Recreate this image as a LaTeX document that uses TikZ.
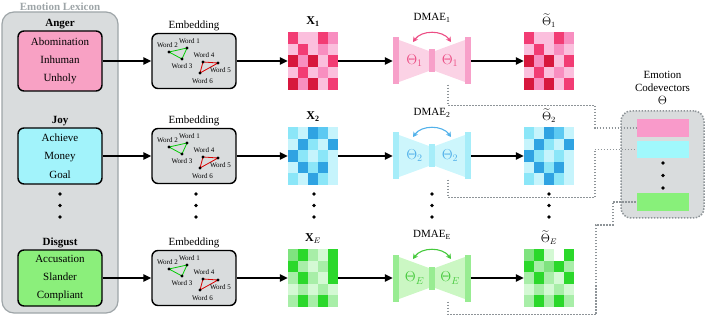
\documentclass[tikz,border=0pt]{standalone}
\usepackage{amsmath}
\usepackage{fontspec}
\setmainfont{Liberation Serif}
\usepackage{xcolor}
\usepackage{tikz}
\usetikzlibrary{arrows.meta,positioning,calc}
% heatmap levels
\definecolor{pkA}{HTML}{D7173D}
\definecolor{pkB}{HTML}{F23C74}
\definecolor{pkC}{HTML}{F88EC0}
\definecolor{pkD}{HTML}{FBBFDD}
\definecolor{blA}{HTML}{2FA3E2}
\definecolor{blB}{HTML}{5CC9F2}
\definecolor{blC}{HTML}{8BE6F8}
\definecolor{blD}{HTML}{C6F4FC}
\definecolor{grA}{HTML}{2BD82B}
\definecolor{grB}{HTML}{7FE37F}
\definecolor{grC}{HTML}{A8EEA8}
\definecolor{grD}{HTML}{D4F9D4}
% dmae colours
\definecolor{pkbar}{HTML}{F7A0C9}
\definecolor{pkbody}{HTML}{FBD2E5}
\definecolor{pkink}{HTML}{EC4D84}
\definecolor{blbar}{HTML}{A6EDF9}
\definecolor{blbody}{HTML}{CDF6FC}
\definecolor{blink}{HTML}{52B1EA}
\definecolor{grbar}{HTML}{98EC92}
\definecolor{grbody}{HTML}{CBF7C3}
\definecolor{grink}{HTML}{45C93C}
% boxes
\definecolor{lexfill}{HTML}{D9DCDD}
\definecolor{lexline}{HTML}{9EA5A8}
\definecolor{angerfill}{HTML}{F8A1C4}
\definecolor{joyfill}{HTML}{A2F3FB}
\definecolor{disgustfill}{HTML}{8BEF7B}
\definecolor{cvpink}{HTML}{F99ACA}
\definecolor{cvcyan}{HTML}{A0F8FC}
\definecolor{cvgreen}{HTML}{88F07A}
\definecolor{linkgray}{HTML}{8E9498}

\tikzset{
  lexframe/.style={draw=lexline,fill=lexfill,line width=1.2pt,rounded corners=12pt,minimum width=116pt,minimum height=301pt,inner sep=0pt},
  lextitle/.style={text=lexline,font=\bfseries\fontsize{11}{13}\selectfont,inner sep=1pt},
  lexbox/.style={draw=black,line width=1.4pt,rounded corners=6pt,minimum width=84pt,inner sep=0pt,align=center,font=\fontsize{11}{18.3}\selectfont},
  lexhead/.style={font=\bfseries\fontsize{11}{13}\selectfont,inner sep=1pt},
  embbox/.style={draw=black,fill=lexfill,line width=1.4pt,rounded corners=6pt,minimum width=84pt,minimum height=55pt,inner sep=0pt},
  embhead/.style={font=\fontsize{11}{13}\selectfont,inner sep=1pt},
  wordlbl/.style={font=\fontsize{7}{8}\selectfont,inner sep=0pt},
  flow/.style={line width=1.4pt,-{Triangle[length=8pt,width=7.5pt]}},
  dmarrow/.style={line width=1.1pt,{Stealth[length=5pt,width=5.5pt]}-{Stealth[length=5pt,width=5.5pt]}},
  link/.style={draw=linkgray,line width=1.5pt,dash pattern=on 1.5pt off 1.5pt},
  cvbar/.style={minimum width=52pt,minimum height=17.5pt,inner sep=0pt}
}

% heatmap: name, centre, rows of cell colours
\newcommand{\heatmap}[3]{%
  \node[inner sep=0pt,minimum width=50pt,minimum height=57.5pt] (#1) at (#2) {};
  \foreach \cells [count=\i] in {#3} {
    \foreach \c [count=\j] in \cells
      \fill[\c] ([shift={(\j*10pt-10pt,-\i*11.5pt+11.5pt)}]#1.north west) rectangle ++(10,11.5);
  }
}

% embedding box with the two word triangles
\newcommand{\embedbox}[2]{%
  \node[embbox] (#1) at (#2) {};
  \foreach \nm/\dx/\dy in {a/-25/-9,b/-7/-13,c/-12/-2,d/9/1,e/24/2,f/6/12}
    \coordinate (#1\nm) at ($(#1)+(\dx,\dy)$);
  \draw[green!80!black,line width=0.8pt] (#1a) -- (#1b) -- (#1c) -- cycle;
  \draw[red!85!black,line width=0.8pt] (#1d) -- (#1e) -- (#1f) -- cycle;
  \foreach \nm in {a,b,c,d,e,f}
    \fill (#1\nm) circle (1.7);
  \node[wordlbl] at ($(#1)+(-26.5,-16)$) {Word 2};
  \node[wordlbl] at ($(#1)+(-4.5,-20)$) {Word 1};
  \node[wordlbl] at ($(#1)+(-12,5)$) {Word 3};
  \node[wordlbl] at ($(#1)+(10,-6)$) {Word 4};
  \node[wordlbl] at ($(#1)+(26.5,9)$) {Word 5};
  \node[wordlbl] at ($(#1)+(8.5,20)$) {Word 6};
  \node[embhead,above=1pt of #1] {Embedding};
}

% dmae: name, centre, bar, body, ink, index
\newcommand{\dmae}[6]{%
  \begin{scope}[shift={(#2)}]
    \fill[#4] (-33,-21) -- (-3,-10) -- (-3,10) -- (-33,21) -- cycle;
    \fill[#4] (33,-21) -- (3,-10) -- (3,10) -- (33,21) -- cycle;
    \fill[#3] (-39,-23.5) rectangle (-33,23.5);
    \fill[#3] (-3,-11.5) rectangle (3,11.5);
    \fill[#3] (33,-23.5) rectangle (39,23.5);
    \node[text=#5,font=\Large] at (-17.5,0) {$\Theta_{#6}$};
    \node[text=#5,font=\Large] at (18,0) {$\Theta_{#6}$};
    \draw[dmarrow,#5] (-19,-19) to[bend left=55] (19,-19);
    \node[font=\fontsize{11}{13}\selectfont] at (0,-43) {DMAE\textsubscript{#6}};
  \end{scope}
  \node[inner sep=0pt,minimum width=78pt,minimum height=47pt] (#1) at (#2) {};
}

\begin{document}
\begin{tikzpicture}[x=1pt,y=-1pt]
\useasboundingbox (0,0) rectangle (706,320);

% lexicon
\node[lexframe] (lexicon) at (60,162.5) {};
\node[lextitle,above=0pt of lexicon] {Emotion Lexicon};
\node[lexbox,fill=angerfill,minimum height=60pt] (anger) at (60,61) {Abomination\\Inhuman\\Unholy};
\node[lexhead,above=0pt of anger] {Anger};
\node[lexbox,fill=joyfill,minimum height=56pt] (joy) at (60,156) {Achieve\\Money\\Goal};
\node[lexhead,above=0pt of joy] {Joy};
\node[lexbox,fill=disgustfill,minimum height=56pt] (disgust) at (60,278) {Accusation\\Slander\\Compliant};
\node[lexhead,above=0pt of disgust] {Disgust};

% embeddings
\embedbox{emb1}{194,61}
\embedbox{emb2}{194,156}
\embedbox{embE}{194,278}

% inputs
\heatmap{x1}{313,61}{{pkB,pkD,pkD,pkB,pkC},{pkD,pkB,pkD,pkC,pkD},{pkA,pkC,pkA,pkD,pkB},{pkD,pkB,pkD,pkC,pkD},{pkA,pkC,pkA,pkD,pkB}}
\heatmap{x2}{313,156}{{blC,blD,blA,blB,blD},{blD,blA,blC,blD,blA},{blA,blC,blD,blC,blD},{blD,blA,blC,blA,blD},{blC,blD,blA,blC,blD}}
\heatmap{xE}{313,278}{{grB,grA,grC,grD,grA},{grA,grC,grD,grC,grA},{grC,grA,grC,grD,grA},{grD,grC,grD,grC,grD},{grC,grA,grC,grA,grC}}
\node[font=\large,above=2pt of x1] {$\mathbf{X}_{\mathbf{1}}$};
\node[font=\large,above=2pt of x2] {$\mathbf{X}_{\mathbf{2}}$};
\node[font=\large,above=2pt of xE] {$\mathbf{X}_{E}$};

% autoencoders
\dmae{dm1}{432,61}{pkbar}{pkbody}{pkink}{1}
\dmae{dm2}{432,156}{blbar}{blbody}{blink}{2}
\dmae{dmE}{432,278}{grbar}{grbody}{grink}{E}

% reconstructions
\heatmap{t1}{549,61}{{pkB,pkD,pkD,pkB,pkC},{pkD,pkB,pkD,pkC,pkD},{pkA,pkC,pkA,pkD,pkB},{pkD,pkB,pkD,pkC,pkD},{pkA,pkC,pkA,pkD,pkB}}
\heatmap{t2}{549,156}{{blC,blD,blA,blB,blD},{blD,blA,blC,blD,blA},{blA,blC,blD,blC,blD},{blD,blA,blC,blA,blD},{blC,blD,blA,blC,blD}}
\heatmap{tE}{549,278}{{grB,grA,grD,white,grA},{grA,grC,grB,grA,grC},{grC,grA,grC,grD,grA},{grD,grC,grD,grC,grD},{grC,grA,grC,grA,grC}}
\node[font=\large,above=1pt of t1] {$\widetilde{\Theta}_1$};
\node[font=\large,above=1pt of t2] {$\widetilde{\Theta}_2$};
\node[font=\large,above=1pt of tE] {$\widetilde{\Theta}_E$};

% flow arrows
\draw[flow] (anger) -- (emb1);
\draw[flow] (emb1) -- (x1);
\draw[flow] (x1) -- (dm1);
\draw[flow] (dm1) -- (t1);
\draw[flow] (joy) -- (emb2);
\draw[flow] (emb2) -- (x2);
\draw[flow] (x2) -- (dm2);
\draw[flow] (dm2) -- (t2);
\draw[flow] (disgust) -- (embE);
\draw[flow] (embE) -- (xE);
\draw[flow] (xE) -- (dmE);
\draw[flow] (dmE) -- (tE);

% vertical dots
\foreach \px in {60,196,314,432,549}
  \foreach \py in {194,205.5,217}
    \fill (\px,\py) circle (1.8);

% codevectors
\node[fill=lexfill,draw=linkgray,line width=1.5pt,dash pattern=on 1.5pt off 1.5pt,rounded corners=10pt,minimum width=83pt,minimum height=107pt,inner sep=0pt] (cvbox) at (662.5,164.5) {};
\node[align=center,font=\fontsize{11}{13}\selectfont,above=2pt of cvbox] {Emotion\\Codevectors\\{\large$\Theta$}};
\node[cvbar,fill=cvpink,minimum height=18pt] (cv1) at (663,128) {};
\node[cvbar,fill=cvcyan] (cv2) at (663,149.5) {};
\node[cvbar,fill=cvgreen,minimum height=18pt] (cvE) at (663,202) {};
\foreach \py in {163,175.5,188}
  \fill (663,\py) circle (1.8);

% links to codevectors
\draw[link] ([xshift=16pt]dm1.south) -- ++(0,21) -| ($(cv1.west)+(-42,0)$) -- (cv1.west);
\draw[link] ([xshift=16pt]dm2.south) -- ++(0,18) -| ($(cv2.west)+(-42,0)$) -- (cv2.west);
\draw[link] ([xshift=16pt]dmE.south) -- ++(0,13) -| ($(cvE.west)+(-41,23)$) -- ++(17,0) |- (cvE.west);
\end{tikzpicture}
\end{document}
